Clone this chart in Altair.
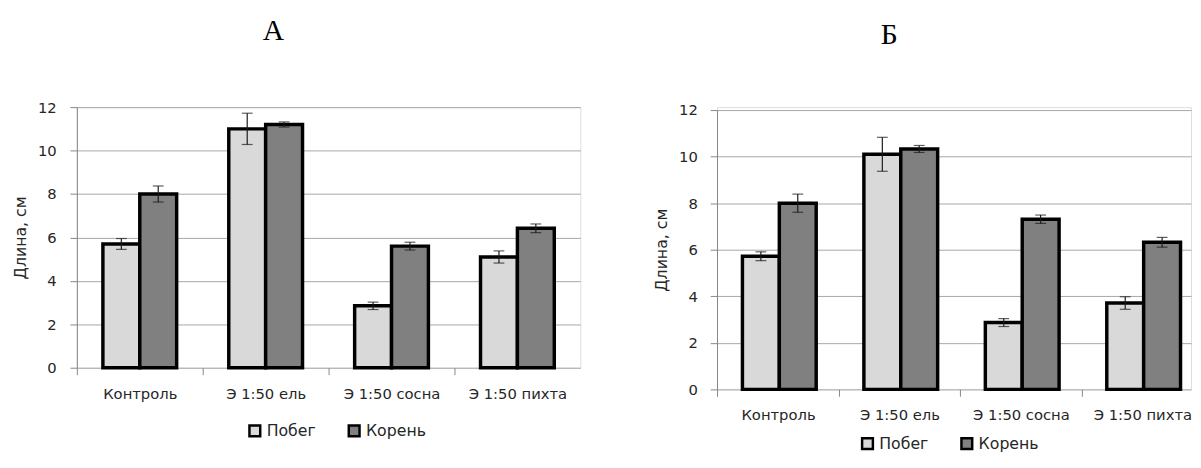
import altair as alt
import pandas as pd

categories = ["Контроль", "Э 1:50 ель", "Э 1:50 сосна", "Э 1:50 пихта"]
series = ["Побег", "Корень"]
colors = ["#d9d9d9", "#808080"]
y_ticks = [0, 2, 4, 6, 8, 10, 12]

a_shoot = [5.7, 11.0, 2.85, 5.1]
a_shoot_err = [0.25, 0.72, 0.17, 0.28]
a_root = [8.0, 11.2, 5.6, 6.42]
a_root_err = [0.37, 0.12, 0.18, 0.2]

b_shoot = [5.72, 10.1, 2.87, 3.71]
b_shoot_err = [0.19, 0.73, 0.17, 0.27]
b_root = [8.0, 10.33, 7.31, 6.32]
b_root_err = [0.39, 0.15, 0.18, 0.21]


def frame(shoot, shoot_err, root, root_err):
    rows = []
    for i, c in enumerate(categories):
        for s, v, e in ((series[0], shoot[i], shoot_err[i]), (series[1], root[i], root_err[i])):
            rows.append({"cat": c, "ser": s, "val": v, "lo": v - e, "hi": v + e})
    return pd.DataFrame(rows)


FONT = "DejaVu Sans"
FS = 15
TXT = "#262626"
GRID = "#a6a6a6"
AXC = "#868686"


def panel(df, title, width, height, xscale, yrange, step, title_dx, title_offset,
          leg_x, leg_y, ylab_pad):
    x = alt.X("cat:N", sort=categories, title=None, scale=xscale,
              axis=alt.Axis(domain=False, labelAngle=0, labelFont=FONT, labelFontSize=FS,
                            labelColor=TXT, labelPadding=12, ticks=True, tickSize=7,
                            tickColor=AXC, tickOffset=-step / 2, labelOffset=step / 2,
                            grid=False))
    xo = alt.XOffset("ser:N", sort=series, scale=alt.Scale(paddingInner=0, paddingOuter=0))
    yaxis = alt.Axis(values=y_ticks, grid=True, gridColor=GRID, gridWidth=1,
                     domain=True, domainColor=AXC, ticks=True, tickColor=AXC, tickSize=7,
                     labelFont=FONT, labelFontSize=FS, labelColor=TXT, labelPadding=ylab_pad,
                     titleFont=FONT, titleFontSize=16, titleFontWeight="normal",
                     titleColor=TXT, titlePadding=9)
    yscale = alt.Scale(domain=[0, 12], nice=False, range=yrange)
    bars = alt.Chart(df).mark_bar(stroke="black", strokeWidth=3.5).encode(
        x=x, xOffset=xo,
        y=alt.Y("val:Q", title="Длина, см", scale=yscale, axis=yaxis),
        color=alt.Color("ser:N", sort=series,
                        scale=alt.Scale(domain=series, range=colors),
                        legend=alt.Legend(orient="none", legendX=leg_x, legendY=leg_y,
                                          direction="horizontal", title=None,
                                          symbolType="square", symbolSize=120,
                                          symbolStrokeColor="black", symbolStrokeWidth=2.5,
                                          labelFont=FONT, labelFontSize=16, labelColor=TXT,
                                          labelOffset=4, columnPadding=28, padding=0)),
    )
    rules = alt.Chart(df).mark_rule(color="#1a1a1a", strokeWidth=1.2).encode(
        x=x, xOffset=xo,
        y=alt.Y("lo:Q", title="Длина, см", scale=yscale, axis=yaxis),
        y2="hi:Q",
    )
    cap_lo = alt.Chart(df).mark_tick(color="#1a1a1a", orient="horizontal", size=11,
                                     thickness=1.2).encode(
        x=x, xOffset=xo,
        y=alt.Y("lo:Q", title="Длина, см", scale=yscale, axis=yaxis),
    )
    cap_hi = alt.Chart(df).mark_tick(color="#1a1a1a", orient="horizontal", size=11,
                                     thickness=1.2).encode(
        x=x, xOffset=xo,
        y=alt.Y("hi:Q", title="Длина, см", scale=yscale, axis=yaxis),
    )
    return alt.layer(bars, rules, cap_lo, cap_hi).properties(
        width=width, height=height,
        title=alt.TitleParams(text=title, font="Liberation Serif", fontSize=30,
                              fontWeight="normal", color="black", anchor="middle",
                              dx=title_dx, offset=title_offset),
    )


dfa = frame(a_shoot, a_shoot_err, a_root, a_root_err)
dfb = frame(b_shoot, b_shoot_err, b_root, b_root_err)

xs_a = alt.Scale(paddingInner=0.414, paddingOuter=0.207)
# panel B is cut at the right edge in the original: same 124px step, last band ends early
xs_b = alt.Scale(paddingInner=0.414, paddingOuter=0.1585, align=0.66)

pa = panel(dfa, "А", 512, 265, xs_a, [265, 0], 128, -56, 55, 173, 321, 14)
pb = panel(dfb, "Б", 482, 287, xs_b, [287, 3], 124, -66, 54, 145, 334, 13)

chart = alt.hconcat(pa, pb, spacing=73).resolve_scale(color="independent").properties(
    padding={"left": 4, "top": 4, "right": 0, "bottom": 0}
).configure_view(stroke=None).configure(background="white")

chart.save("out.html", embed_options={"renderer": "svg", "actions": False})
